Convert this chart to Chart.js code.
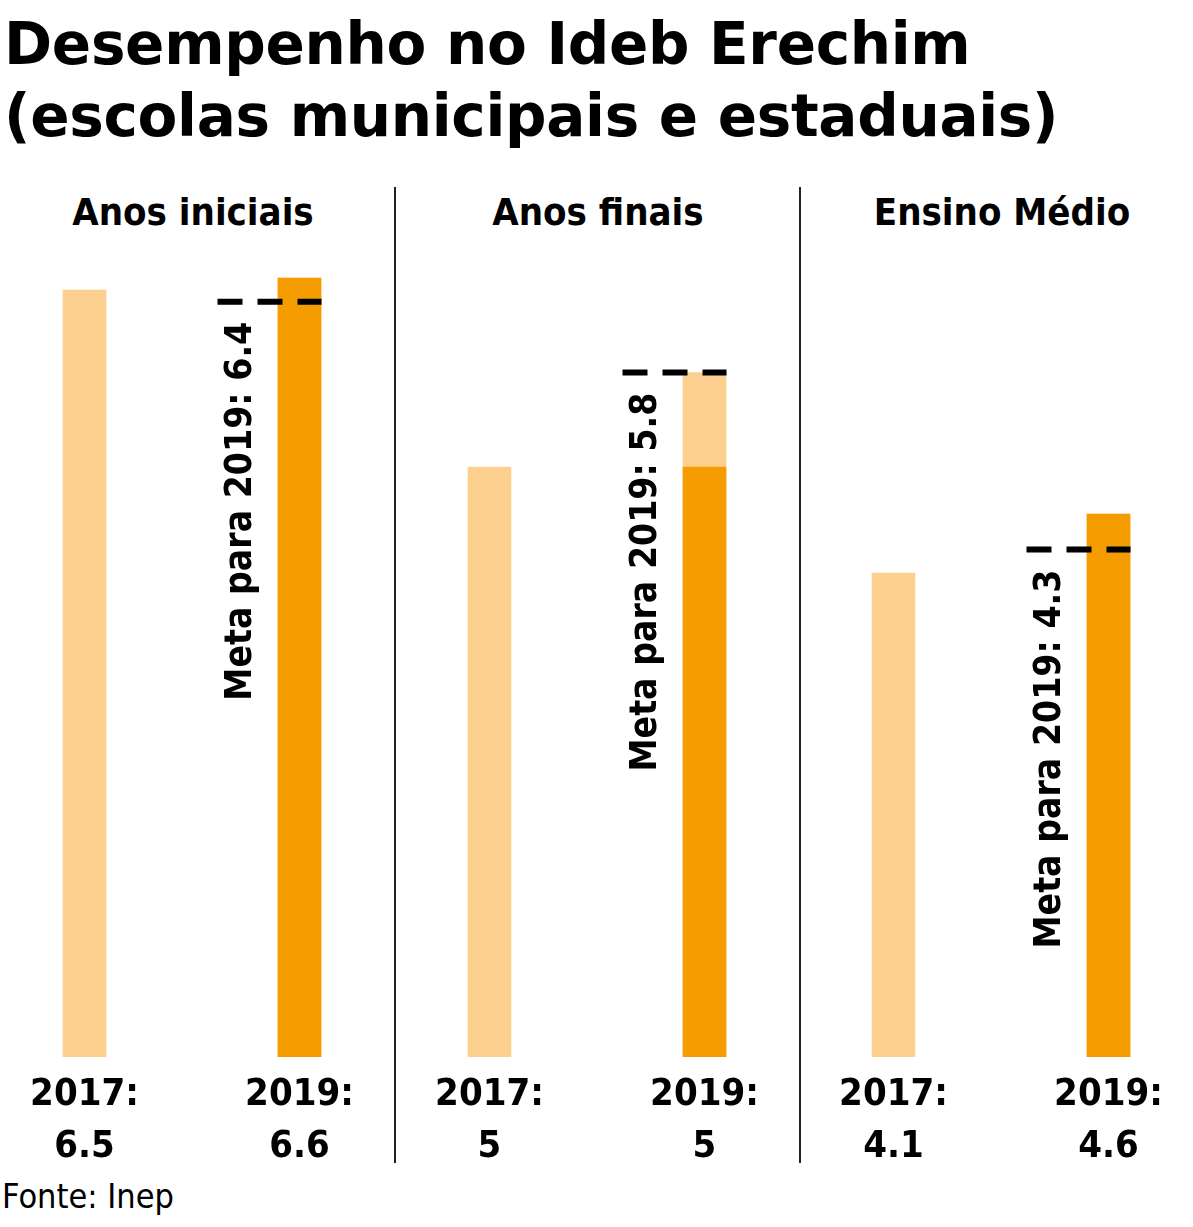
<!DOCTYPE html>
<html>
<head>
<meta charset="utf-8">
<script src="https://cdn.jsdelivr.net/npm/chart.js@4"></script>
<style>
  body { margin: 0; background: #fff; width: 1193px; height: 1227px; position: relative; overflow: hidden; font-family: "DejaVu Sans Condensed", "DejaVu Sans", sans-serif; }
  .title { position: absolute; left: 4px; top: 8px; font-weight: bold; font-family: "DejaVu Sans", sans-serif; font-size: 58px; line-height: 72px; color: #000; letter-spacing: -0.3px; }
  .sep { position: absolute; top: 187px; height: 976px; width: 2px; background: #222; }
  .ptitle { position: absolute; top: 190px; width: 400px; text-align: center; font-weight: bold; font-size: 38px; }
  .src { position: absolute; left: 2px; top: 1176px; font-size: 34px; }
  canvas { position: absolute; }
</style>
</head>
<body>
<div class="title">Desempenho no Ideb Erechim<br>(escolas municipais e estaduais)</div>
<div class="sep" style="left:394px"></div>
<div class="sep" style="left:799px"></div>
<div class="src">Fonte: Inep</div>
<script>
// etapas e valores do Ideb
const etapas = ['Anos iniciais', 'Anos finais', 'Ensino Médio'];
const anos = ['2017', '2019'];
const ideb2017 = [6.5, 5, 4.1];
const ideb2019 = [6.6, 5, 4.6];
const meta2019 = [6.4, 5.8, 4.3];

const CLARO = '#fdd08f';
const LARANJA = '#f59d00';
const lefts = [-23, 382, 786];
const titleLefts = [-7, 398, 802];

function fmt(v) { return String(v); }

// plugin: linha da meta, texto girado e rótulos embaixo
const extras = {
  id: 'extras',
  afterDatasetsDraw(chart) {
    const i = chart.config.options.idx;
    const ctx = chart.ctx, x = chart.scales.x, y = chart.scales.y;
    const xs = [x.getPixelForValue(0), x.getPixelForValue(1)];
    const ym = y.getPixelForValue(meta2019[i]);
    ctx.save();
    ctx.strokeStyle = '#000';
    ctx.lineWidth = 6;
    ctx.setLineDash([25, 15]);
    ctx.beginPath();
    ctx.moveTo(xs[1] - 82, ym);
    ctx.lineTo(xs[1] + 22, ym);
    ctx.stroke();
    ctx.setLineDash([]);
    ctx.fillStyle = '#000';
    ctx.font = 'bold 37px "DejaVu Sans Condensed", sans-serif';
    ctx.translate(xs[1] - 58, ym + 20);
    ctx.rotate(-Math.PI / 2);
    ctx.textAlign = 'right';
    ctx.textBaseline = 'middle';
    ctx.fillText('Meta para 2019: ' + fmt(meta2019[i]), 0, 0);
    ctx.restore();

    ctx.save();
    ctx.fillStyle = '#000';
    ctx.font = 'bold 38px "DejaVu Sans Condensed", sans-serif';
    ctx.textAlign = 'center';
    ctx.textBaseline = 'middle';
    const vals = [ideb2017[i], ideb2019[i]];
    const base = chart.chartArea.bottom;
    for (let k = 0; k < 2; k++) {
      ctx.fillText(anos[k] + ':', xs[k], base + 38);
      ctx.fillText(fmt(vals[k]), xs[k], base + 90);
    }
    ctx.restore();
  }
};

etapas.forEach((nome, i) => {
  const t = document.createElement('div');
  t.className = 'ptitle';
  t.style.left = titleLefts[i] + 'px';
  t.textContent = nome;
  document.body.appendChild(t);

  const c = document.createElement('canvas');
  c.style.left = lefts[i] + 'px';
  c.style.top = '240px';
  c.style.width = '430px';
  c.style.height = '930px';
  c.width = 430; c.height = 930;
  document.body.appendChild(c);

  new Chart(c, {
    type: 'bar',
    data: {
      labels: anos,
      datasets: [
        { data: [null, ideb2019[i]], backgroundColor: LARANJA, order: 0, barThickness: 43, grouped: false },
        { data: [ideb2017[i], Math.max(meta2019[i], ideb2019[i])], backgroundColor: CLARO, order: 1, barThickness: 43, grouped: false }
      ]
    },
    options: {
      idx: i,
      responsive: false,
      animation: false,
      layout: { padding: { top: 0, bottom: 113, left: 0, right: 0 } },
      plugins: { legend: { display: false }, tooltip: { enabled: false } },
      scales: {
        x: { display: false },
        y: { display: false, min: 0, max: 817 / 118 }
      }
    },
    plugins: [extras]
  });
});
</script>
</body>
</html>
